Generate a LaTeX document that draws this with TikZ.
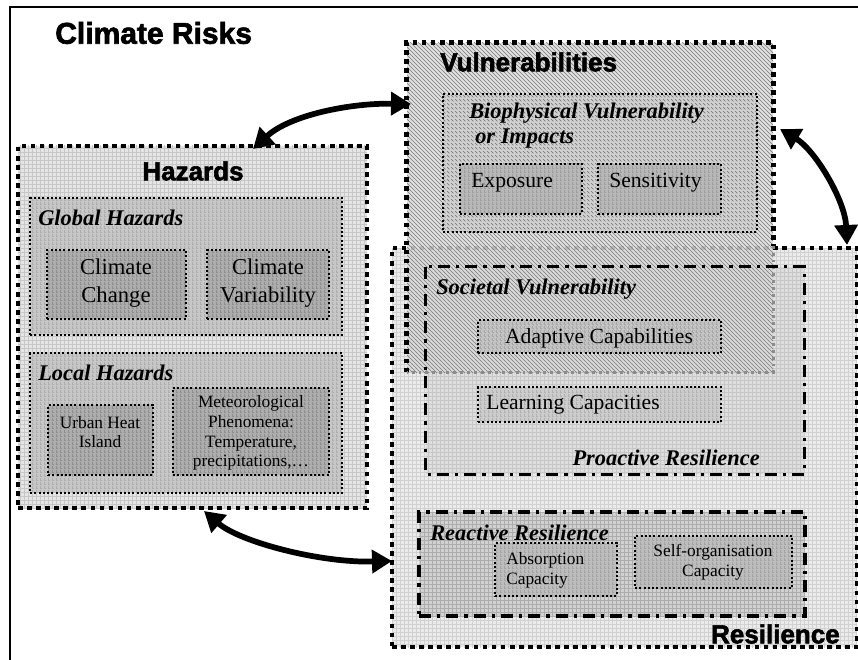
\documentclass[tikz,border=0pt]{standalone}
\usepackage{fontspec}
\setmainfont{Liberation Serif}
\newfontfamily\hdrfont[BoldFeatures={FakeBold=2.2}]{Liberation Sans}
\usetikzlibrary{patterns,arrows.meta,fit}

\begin{document}
\begin{tikzpicture}[x=0.75pt,y=-0.75pt,
  bigdots/.style={line width=3.5pt, dash pattern=on 3.5pt off 3.3pt},
  smalldots/.style={line width=1.5pt, dash pattern=on 1.5pt off 1.7pt},
  dashdotbox/.style={line width=2.5pt, dash pattern=on 9pt off 4.5pt on 2.5pt off 4.5pt},
  gridfill/.style n args={2}{preaction={fill=#1}, pattern=grid, pattern color=#2},
  hatchfill/.style n args={2}{preaction={fill=#1}, pattern=north west lines, pattern color=#2},
  bx/.style={inner sep=0pt},
  hdr/.style={font=\hdrfont\bfseries\fontsize{19.5pt}{21pt}\selectfont, inner sep=0pt},
  lbl/.style={font=\bfseries\itshape\fontsize{16.8pt}{18pt}\selectfont, inner sep=0pt},
  bigtxt/.style={font=\fontsize{17pt}{21pt}\selectfont, inner sep=0pt, align=center},
  midtxt/.style={font=\fontsize{16.2pt}{18pt}\selectfont, inner sep=0pt},
  smalltxt/.style={font=\fontsize{13pt}{14.8pt}\selectfont, inner sep=0pt, align=center},
  bigarrow/.style={line width=4.3pt, {Triangle[length=15pt,width=17pt]}-{Triangle[length=15pt,width=17pt]}}
]
\clip (0,0) rectangle (858,660);
\fill[white] (0,0) rectangle (858,660);
% outer frame
\draw[line width=1.8pt] (10,7) rectangle (880,690);
\node[anchor=west, inner sep=0pt, font=\hdrfont\bfseries\fontsize{22.5pt}{24pt}\selectfont] (title) at (55,33) {Climate Risks};

% ---------------- Resilience ----------------
\node[bx, fit={(392,248) (857,647)}, gridfill={black!8}{black!18}, bigdots, draw] (res) {};
\node[hdr, anchor=east] (restxt) at (840,634) {Resilience};

% Proactive resilience (fill)
\node[bx, fit={(426,267) (804,474)}, gridfill={black!13}{black!22}] (pro) {};
% Reactive resilience
\node[bx, fit={(419,512) (805,616)}, gridfill={black!18}{black!32}, dashdotbox, draw] (rea) {};

% ---------------- Vulnerabilities ----------------
\node[bx, fit={(407,43) (773,372)}, hatchfill={black!14}{black!52}, fill opacity=0.85] (vul) {};
\draw[bigdots] (vul.south west) -- (vul.north west) -- (vul.north east) -- (vul.east |- res.north);
\draw[line width=2.2pt, dash pattern=on 2.2pt off 3pt, black!45] (vul.east |- res.north) -- (vul.south east) -- (vul.south west);
\node[hdr, anchor=west] (vultxt) at (440,62) {Vulnerabilities};

\node[bx, fit={(443,94) (757,232)}, hatchfill={black!18}{black!55}, smalldots, draw] (bio) {};
\node[lbl, anchor=west] (biotxt1) at (469,113) {Biophysical Vulnerability};
\node[lbl, anchor=west] (biotxt2) at (475,139) {or Impacts};
\node[bx, fit={(460,164) (582,214)}, gridfill={black!28}{black!38}, smalldots, draw] (expo) {};
\node[midtxt, anchor=west] (expotxt) at (471,183) {Exposure};
\node[bx, fit={(598,164) (721,214)}, gridfill={black!28}{black!38}, smalldots, draw] (sens) {};
\node[midtxt, anchor=west] (senstxt) at (609,183) {Sensitivity};

% proactive border on top
\draw[dashdotbox] (pro.north west) rectangle (pro.south east);
\node[lbl, anchor=west] (soctxt) at (436,289) {Societal Vulnerability};
\node[bx, fit={(478,320) (721,353)}, gridfill={black!24}{black!34}, fill opacity=0.8, smalldots, draw] (adap) {};
\node[midtxt] (adaptxt) at (599,338) {Adaptive Capabilities};
\node[bx, fit={(478,387) (721,422)}, gridfill={black!20}{black!30}, smalldots, draw] (learn) {};
\node[midtxt] (learntxt) at (573,405) {Learning Capacities};
\node[lbl, anchor=east] (protxt) at (760,458) {Proactive Resilience};

\node[lbl, anchor=west] (reatxt) at (430,533) {Reactive Resilience};
\node[bx, fit={(495,543) (617,596)}, gridfill={black!26}{black!36}, smalldots, draw] (abs) {};
\node[smalltxt, anchor=west, align=left] (abstxt) at (506,570) {Absorption\\Capacity};
\node[bx, fit={(635,536) (792,588)}, gridfill={black!26}{black!36}, smalldots, draw] (self) {};
\node[smalltxt] (selftxt) at (713,562) {Self-organisation\\Capacity};

% ---------------- Hazards ----------------
\node[bx, fit={(18,146) (367,508)}, gridfill={black!10}{black!22}, bigdots, draw] (haz) {};
\node[hdr] (haztxt) at (193,171) {Hazards};
\node[bx, fit={(30,198) (342,335)}, gridfill={black!22}{black!32}, smalldots, draw] (glob) {};
\node[lbl, anchor=west] (globtxt) at (38,218) {Global Hazards};
\node[bx, fit={(47,250) (186,319)}, gridfill={black!32}{black!44}, smalldots, draw] (cc) {};
\node[bigtxt] (cctxt) at (116,283) {Climate\\Change};
\node[bx, fit={(207,250) (329,319)}, gridfill={black!32}{black!44}, smalldots, draw] (cv) {};
\node[bigtxt] (cvtxt) at (268,283) {Climate\\Variability};
\node[bx, fit={(30,353) (342,493)}, gridfill={black!22}{black!32}, smalldots, draw] (loc) {};
\node[lbl, anchor=west] (loctxt) at (38,373) {Local Hazards};
\node[bx, fit={(48,405) (153,475)}, gridfill={black!32}{black!44}, smalldots, draw] (uhi) {};
\node[smalltxt] (uhitxt) at (100,432) {Urban Heat\\Island};
\node[bx, fit={(173,388) (329,475)}, gridfill={black!32}{black!44}, smalldots, draw] (met) {};
\node[smalltxt] (mettxt) at (251,433) {Meteorological\\Phenomena:\\Temperature,\\precipitations,\dots};

% ---------------- Arrows ----------------
\coordinate (a1s) at (253,149);
\coordinate (a1e) at (411,104);
\draw[bigarrow] (a1s) .. controls (290,115) and (350,103) .. (a1e);
\coordinate (a2s) at (780,129);
\coordinate (a2e) at (847,245);
\draw[bigarrow] (a2s) .. controls (815,150) and (845,200) .. (a2e);
\coordinate (a3s) at (204,511);
\coordinate (a3e) at (392,561);
\draw[bigarrow] (a3s) .. controls (240,542) and (320,563) .. (a3e);
\end{tikzpicture}
\end{document}
